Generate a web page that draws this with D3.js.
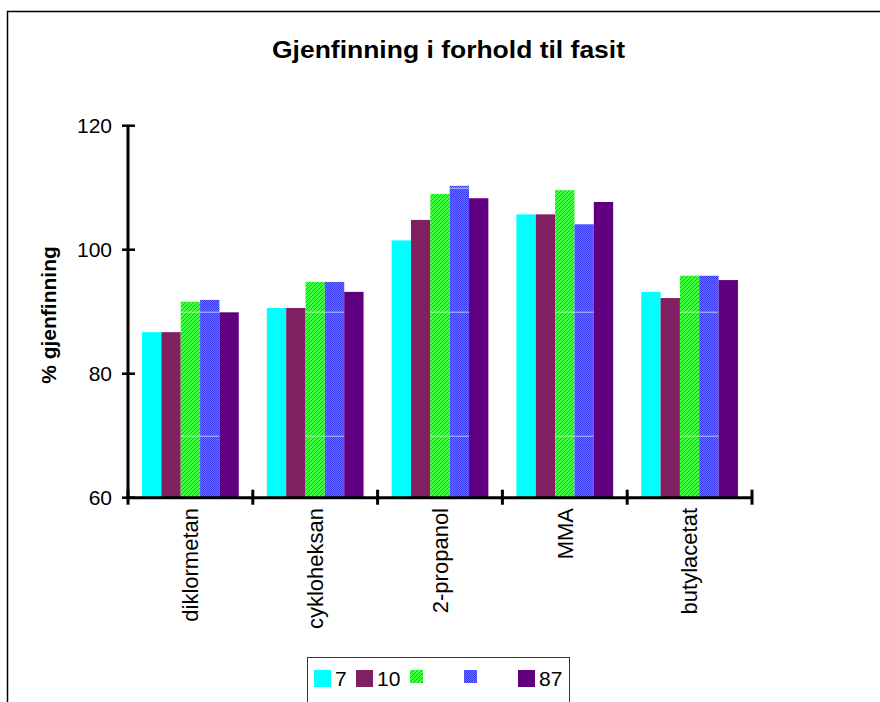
<!DOCTYPE html>
<html><head><meta charset="utf-8">
<script src="https://cdn.jsdelivr.net/npm/d3@7"></script>
<style>body{margin:0;background:#fff}svg{display:block}text{font-family:"Liberation Sans",Arial,sans-serif}</style>
</head><body>
<script>
const categories = ["diklormetan","cykloheksan","2-propanol","MMA","butylacetat"];
const seriesNames = ["7","10","","","87"];
const s7  = [86.7, 90.6, 101.5, 105.7, 93.2];
const s10 = [86.7, 90.6, 104.8, 105.7, 92.2];
const s3  = [91.6, 94.8, 109.0, 109.6, 95.8];
const s4  = [91.9, 94.8, 110.3, 104.1, 95.8];
const s87 = [89.9, 93.2, 108.3, 107.7, 95.1];
const yTicks = [60, 80, 100, 120];
const seriesVals = [s7, s10, s3, s4, s87];
const fills = ["#00ffff", "#802060", "url(#pGreen)", "url(#pBlue)", "#600080"];
const patterned = [false, false, true, true, false];

const W = 880, H = 702;
const svg = d3.select("body").append("svg").attr("width", W).attr("height", H);
const defs = svg.append("defs");
const pg = defs.append("pattern").attr("id","pGreen").attr("patternUnits","userSpaceOnUse").attr("width",4).attr("height",4);
pg.append("rect").attr("width",4).attr("height",4).attr("fill","#40ff40");
pg.append("path").attr("d","M0,4 L4,0 M-1,1 L1,-1 M3,5 L5,3").attr("stroke","#10c010").attr("stroke-width",1);
const pb = defs.append("pattern").attr("id","pBlue").attr("patternUnits","userSpaceOnUse").attr("width",2).attr("height",2);
pb.append("rect").attr("width",2).attr("height",2).attr("fill","#7070ff");
pb.append("rect").attr("width",1).attr("height",1).attr("fill","#3838f0");
pb.append("rect").attr("x",1).attr("y",1).attr("width",1).attr("height",1).attr("fill","#3838f0");

// outer frame
svg.append("path").attr("d","M7.5,710 V11.5 H890").attr("fill","none").attr("stroke","#000").attr("stroke-width",1.5);

const x0 = d3.scaleBand().domain(categories).range([128, 752]).paddingInner(0.225).paddingOuter(0.1125);
const x1 = d3.scaleBand().domain(d3.range(5)).range([0, x0.bandwidth()]);
const y = d3.scaleLinear().domain([60, 120]).range([497.7, 125.7]);

// title
svg.append("text").attr("x", 448.5).attr("y", 58).attr("text-anchor","middle")
  .attr("font-size", 24).attr("font-weight","bold")
  .attr("textLength", 353).attr("lengthAdjust","spacingAndGlyphs")
  .text("Gjenfinning i forhold til fasit");

// bars
const g = svg.append("g");
categories.forEach((c, ci) => {
  seriesVals.forEach((s, si) => {
    g.append("rect").attr("x", x0(c) + x1(si)).attr("y", y(s[ci]))
      .attr("width", x1.bandwidth()).attr("height", y(60) - y(s[ci]))
      .attr("fill", fills[si]);
    if (patterned[si]) {
      [70, 90, 110].forEach(t => {
        if (t < s[ci]) g.append("line").attr("x1", x0(c) + x1(si)).attr("x2", x0(c) + x1(si) + x1.bandwidth())
          .attr("y1", y(t) + 0.5).attr("y2", y(t) + 0.5).attr("stroke", "#d8ffd8").attr("stroke-opacity", 0.7).attr("stroke-width", 1);
      });
    }
  });
});

// y axis
const ya = svg.append("g");
ya.append("line").attr("x1",128).attr("x2",128).attr("y1",y(120)).attr("y2",y(60)).attr("stroke","#000").attr("stroke-width",3);
yTicks.forEach(t => {
  ya.append("line").attr("x1",122).attr("x2",135).attr("y1",y(t)).attr("y2",y(t)).attr("stroke","#000").attr("stroke-width",2.5);
  ya.append("text").attr("x",112).attr("y",y(t)).attr("dy","0.35em").attr("text-anchor","end").attr("font-size",21).text(t);
});
// x axis
const xa = svg.append("g");
xa.append("line").attr("x1",126.5).attr("x2",753).attr("y1",y(60)).attr("y2",y(60)).attr("stroke","#000").attr("stroke-width",3);
const bounds = categories.map(c => x0(c) - x0.step()*x0.paddingOuter()).concat([752]);
bounds.forEach(b => {
  xa.append("line").attr("x1",b).attr("x2",b).attr("y1",y(60)-8).attr("y2",y(60)+7).attr("stroke","#000").attr("stroke-width",3);
});
categories.forEach(c => {
  const cx = x0(c) + x0.bandwidth()/2;
  xa.append("text").attr("transform",`translate(${cx},508) rotate(-90)`).attr("dy","0.35em")
    .attr("text-anchor","end").attr("font-size",22).text(c);
});
// y label
svg.append("text").attr("transform","translate(49,315) rotate(-90)").attr("dy","0.35em")
  .attr("text-anchor","middle").attr("font-size",21).attr("font-weight","bold").text("% gjenfinning");

// legend
const lg = svg.append("g");
lg.append("rect").attr("x",307.5).attr("y",657.5).attr("width",262).attr("height",60).attr("fill","#fff").attr("stroke","#333").attr("stroke-width",1);
const lx = [314, 356, 410, 464, 518];
seriesNames.forEach((n, i) => {
  const sz = patterned[i] ? 13 : 17;
  lg.append("rect").attr("x", lx[i]).attr("y", 670).attr("width", sz).attr("height", sz).attr("fill", fills[i]);
  if (n) lg.append("text").attr("x", lx[i] + 21).attr("y", 678.5).attr("dy","0.35em").attr("font-size",21).text(n);
});
</script>
</body></html>
